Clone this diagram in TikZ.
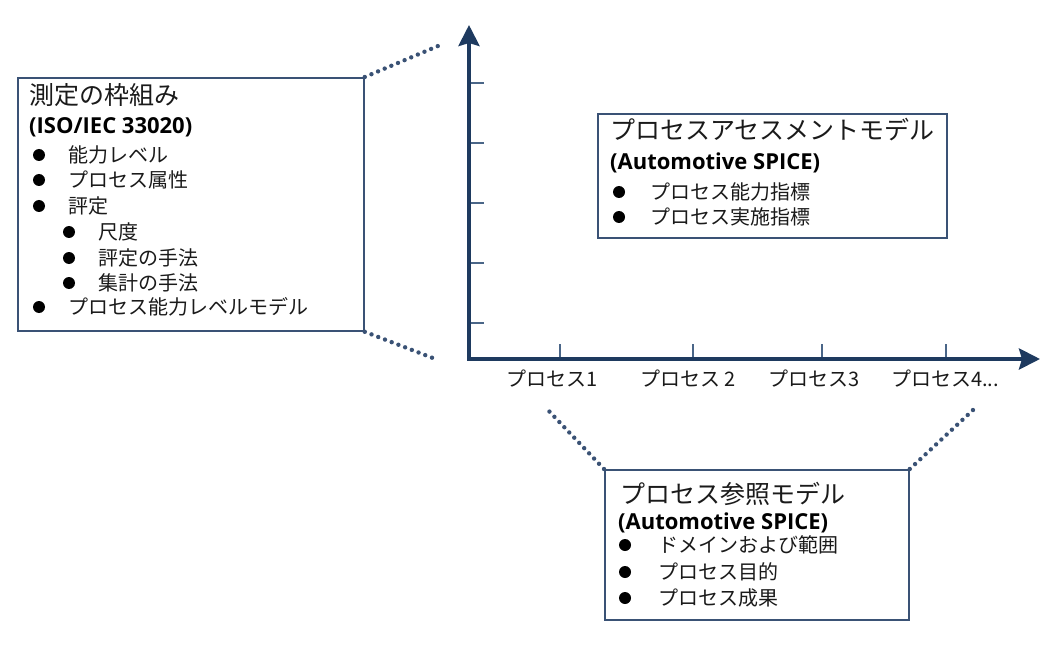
\documentclass[tikz,border=0pt]{standalone}
\usepackage{fontspec}
\setmainfont{Noto Sans CJK JP}
\newfontfamily\latinfont{Open Sans}
\usepackage{xcolor}
\usetikzlibrary{arrows.meta}
\definecolor{navy}{HTML}{1E3A5F}
\definecolor{framec}{HTML}{3A5275}
\definecolor{tickc}{HTML}{4A6688}
\definecolor{inkc}{HTML}{1A1A1A}
\tikzset{
	panel/.style={draw=framec, line width=1.8pt, anchor=north west, inner sep=0pt},
	link/.style={draw=framec, line width=4.4pt, line cap=round, dash pattern=on 0pt off 7.2pt},
	axis/.style={draw=navy, line width=4pt, line join=miter,
			{Stealth[length=21pt,width=21pt,inset=3pt]}-{Stealth[length=21pt,width=21pt,inset=3pt]}},
	tick/.style={draw=tickc, line width=1.8pt},
	title/.style={font=\fontsize{25}{30}\selectfont, text=inkc, anchor=base west, inner sep=0pt},
	subtitle/.style={font=\latinfont\bfseries\fontsize{22}{26}\selectfont, text=black, anchor=base west, inner sep=0pt},
	item/.style={font=\fontsize{20}{24}\selectfont, text=inkc, anchor=west, inner sep=0pt},
	proc/.style={font=\fontsize{20}{24}\selectfont, text=inkc, anchor=base, inner sep=0pt},
	bullet/.style={fill=black, draw=none}
}

\begin{document}
\begin{tikzpicture}[x=1pt, y=-1pt]
        \useasboundingbox (0, 0) rectangle (1052, 647);
        \node[panel, minimum width=346pt, minimum height=253pt] (frame_box) at (17, 77) {};
        \node[title] (frame_title) at (29, 105) {測定の枠組み};
        \node[subtitle] (frame_std) at (29, 134) {(ISO/IEC 33020)};
        \coordinate (frame_b1) at (39, 155);
        \coordinate (frame_b2) at (39, 180);
        \coordinate (frame_b3) at (39, 206);
        \coordinate (frame_b4) at (69, 232);
        \coordinate (frame_b5) at (69, 258);
        \coordinate (frame_b6) at (69, 283);
        \coordinate (frame_b7) at (39, 307);
        \filldraw[bullet] (frame_b1) circle (6pt);
        \filldraw[bullet] (frame_b2) circle (6pt);
        \filldraw[bullet] (frame_b3) circle (6pt);
        \filldraw[bullet] (frame_b4) circle (6pt);
        \filldraw[bullet] (frame_b5) circle (6pt);
        \filldraw[bullet] (frame_b6) circle (6pt);
        \filldraw[bullet] (frame_b7) circle (6pt);
        \node[item] (frame_t1) at (68, 155) {能力レベル};
        \node[item] (frame_t2) at (68, 180) {プロセス属性};
        \node[item] (frame_t3) at (68, 206) {評定};
        \node[item] (frame_t4) at (98, 232) {尺度};
        \node[item] (frame_t5) at (98, 258) {評定の手法};
        \node[item] (frame_t6) at (98, 283) {集計の手法};
        \node[item] (frame_t7) at (68, 307) {プロセス能力レベルモデル};
        \coordinate (frame_top) at (438, 46);
        \coordinate (frame_bot) at (438, 360);
        \draw[link] (frame_box.north east) -- (frame_top);
        \draw[link] (frame_box.south east) -- (frame_bot);
        \coordinate (origin) at (469, 359);
        \coordinate (y_end) at (469, 25);
        \coordinate (x_end) at (1040, 359);
        \draw[tick] (469, 83) -- (484, 83);
        \draw[tick] (469, 143) -- (484, 143);
        \draw[tick] (469, 203) -- (484, 203);
        \draw[tick] (469, 263) -- (484, 263);
        \draw[tick] (469, 323) -- (484, 323);
        \draw[tick] (560, 344) -- (560, 359);
        \draw[tick] (693, 344) -- (693, 359);
        \draw[tick] (822, 344) -- (822, 359);
        \draw[tick] (946, 344) -- (946, 359);
        \draw[axis] (y_end) -- (origin) -- (x_end);
        \node[proc] (proc_1) at (552, 386) {プロセス1};
        \node[proc] (proc_2) at (688, 386) {プロセス 2};
        \node[proc] (proc_3) at (814, 386) {プロセス3};
        \node[proc] (proc_4) at (945, 386) {プロセス4...};
        \node[panel, minimum width=349pt, minimum height=124pt] (pam_box) at (597, 113) {};
        \node[title] (pam_title) at (610, 140) {プロセスアセスメントモデル};
        \node[subtitle] (pam_std) at (610, 170) {(Automotive SPICE)};
        \coordinate (pam_b1) at (619, 192);
        \coordinate (pam_b2) at (619, 217);
        \filldraw[bullet] (pam_b1) circle (6pt);
        \filldraw[bullet] (pam_b2) circle (6pt);
        \node[item] (pam_t1) at (650, 192) {プロセス能力指標};
        \node[item] (pam_t2) at (650, 217) {プロセス実施指標};
        \node[panel, minimum width=304pt, minimum height=150pt] (prm_box) at (604, 469) {};
        \node[title] (prm_title) at (620, 503) {プロセス参照モデル};
        \node[subtitle] (prm_std) at (618, 529) {(Automotive SPICE)};
        \coordinate (prm_b1) at (625, 545);
        \coordinate (prm_b2) at (625, 572);
        \coordinate (prm_b3) at (625, 598);
        \filldraw[bullet] (prm_b1) circle (6pt);
        \filldraw[bullet] (prm_b2) circle (6pt);
        \filldraw[bullet] (prm_b3) circle (6pt);
        \node[item] (prm_t1) at (658, 545) {ドメインおよび範囲};
        \node[item] (prm_t2) at (658, 572) {プロセス目的};
        \node[item] (prm_t3) at (658, 598) {プロセス成果};
        \coordinate (prm_left) at (547, 409);
        \coordinate (prm_right) at (973, 410);
        \draw[link] (prm_box.north west) -- (prm_left);
        \draw[link] (prm_box.north east) -- (prm_right);
    \end{tikzpicture}
\end{document}
